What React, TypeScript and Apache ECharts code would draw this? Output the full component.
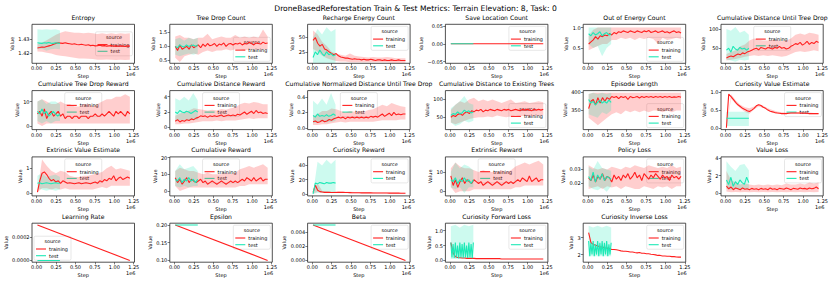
import React, { useEffect, useRef } from 'react';
import * as echarts from 'echarts';

const TRAIN_COLOR = '#ff1f1f';
const TEST_COLOR = '#1de9b6';
const TRAIN_BAND = 'rgba(255,31,31,0.22)';
const TEST_BAND = 'rgba(29,233,182,0.22)';

const SUPTITLE = 'DroneBasedReforestation Train & Test Metrics: Terrain Elevation: 8, Task: 0';
const X_TICKS = [0, 0.25, 0.5, 0.75, 1.0, 1.25];
const LEGEND_TITLE = 'source';
const SERIES_NAMES = ['training', 'test'];

// ---------- Row 1 ----------
const entropyTrain = [1.4235,1.4238,1.4242,1.424,1.4245,1.425,1.4255,1.4262,1.4268,1.4272,1.427,1.4268,1.4272,1.4268,1.4265,1.4262,1.4265,1.426,1.4258,1.4262,1.4258,1.4255,1.4258,1.4252,1.4255,1.425,1.4252,1.4255,1.425,1.4252,1.4248,1.425,1.4252,1.4248,1.425,1.4247,1.425,1.4248,1.4246,1.425,1.4248];
const entropyTrainLo = [1.421,1.4208,1.42,1.4195,1.4185,1.418,1.4175,1.417,1.4165,1.416,1.416,1.4158,1.4155,1.415,1.415,1.4152,1.415,1.4148,1.415,1.4148,1.415];
const entropyTrainHi = [1.4265,1.4275,1.429,1.431,1.433,1.4345,1.4355,1.435,1.4345,1.4345,1.434,1.4345,1.434,1.4335,1.434,1.4335,1.434,1.4335,1.434,1.4338,1.434];
const entropyTest = [1.4272,1.427,1.4268,1.4272,1.427,1.4275,1.427,1.4268,1.4272,1.427,1.4268];
const entropyTestLo = [1.4225,1.423,1.4215,1.4225,1.423,1.4225];
const entropyTestHi = [1.437,1.4365,1.437,1.4365,1.437,1.436];

const treeDropTrain = [1.0,0.85,1.05,0.9,0.95,1.0,0.9,1.05,0.95,1.0,1.05,0.95,1.08,1.0,1.1,1.02,1.05,1.1,1.0,1.08,1.05,1.12,1.0,1.08,1.1,1.05,1.1,1.08,1.12,1.05,1.1,1.08,1.15,1.1,1.05,1.12,1.1,1.08,1.15,1.1,1.12];
const treeDropTrainLo = [0.6,0.45,0.65,0.7,0.75,0.7,0.8,0.85,0.8,0.85,0.85,0.9,0.85,0.9,0.9,0.85,0.9,0.9,0.88,0.9,0.9];
const treeDropTrainHi = [1.35,1.4,1.3,1.3,1.25,1.3,1.3,1.45,1.25,1.3,1.35,1.3,1.3,1.4,1.3,1.35,1.3,1.35,1.3,1.6,1.35];
const treeDropTest = [1.0,0.95,1.05,1.0,0.98,1.05,1.0,1.02,1.05,1.0,1.05];
const treeDropTestLo = [0.7,0.65,0.7,0.75,0.7,0.75];
const treeDropTestHi = [1.25,1.3,1.2,1.3,1.25,1.3];

const rechargeTrain = [45,50,40,35,38,30,28,25,22,20,22,18,16,15,14,14,13,12,13,12,12,11,12,11,11,12,11,10,11,11,10,11,10,10,11,10,10,11,10,10,10];
const rechargeTrainLo = [30,25,18,14,11,9,8,8,7,7,7,7,7,7,7,7,7,6,6,6,6];
const rechargeTrainHi = [62,55,42,35,25,22,20,18,22,18,17,16,15,16,15,15,16,15,14,14,14];
const rechargeTest = [15,25,20,28,22,18,25,20,22,18,20];
const rechargeTestLo = [5,6,5,6,5,6];
const rechargeTestHi = [50,65,55,68,60,65];

const saveLocTrain = [0, 0];
const saveLocTest = [0, 0];

const outEnergyTrain = [0.6,0.65,0.7,0.78,0.72,0.8,0.78,0.82,0.8,0.85,0.82,0.88,0.85,0.9,0.88,0.92,0.9,0.88,0.92,0.9,0.88,0.92,0.9,0.88,0.92,0.9,0.93,0.88,0.9,0.92,0.88,0.9,0.92,0.88,0.9,0.87,0.9,0.92,0.88,0.9,0.87];
const outEnergyTrainLo = [0.45,0.5,0.55,0.6,0.6,0.7,0.7,0.75,0.72,0.75,0.7,0.75,0.72,0.75,0.72,0.6,0.75,0.7,0.72,0.75,0.72];
const outEnergyTrainHi = [0.8,0.95,1.0,1.0,1.0,1.0,1.0,1.0,1.0,1.0,1.0,1.0,1.0,1.0,1.0,1.0,1.0,1.0,1.0,1.0,1.0];
const outEnergyTest = [0.85,0.8,0.88,0.82,0.85,0.9,0.8,0.85,0.88,0.82,0.85];
const outEnergyTestLo = [0.6,0.5,0.55,0.3,0.5,0.6];
const outEnergyTestHi = [1.0,1.0,1.0,1.0,1.0,1.0];

const distUntilDropTrain = [25,28,30,28,32,35,33,38,36,40,42,45,48,50,46,52,50,48,52,50,48,52,50,55,50,52,48,50,55,58,62,60,65,58,62,68,60,65,62,68,65];
const distUntilDropTrainLo = [18,20,22,25,28,30,32,30,32,30,32,30,28,30,35,40,42,40,42,45,42];
const distUntilDropTrainHi = [35,40,45,55,60,70,75,72,70,70,72,70,68,70,75,85,88,85,90,88,85];
const distUntilDropTest = [45,50,40,55,48,45,52,48,50,45,50];
const distUntilDropTestLo = [20,18,15,20,18,20];
const distUntilDropTestHi = [100,95,105,90,95,85];

// ---------- Row 2 ----------
const dropRewardTrain = [5,6,4,7,3,5,6,4,5,6,4,5,3,4,4,3,4,4,3,4,4,4,3,4,4,5,4,4,5,4,5,6,5,4,6,5,6,5,4,6,5];
const dropRewardTrainLo = [1,0,1,1,1,1,1,1,1,1,1,1,1,1,1,1,1,1,1,1,1];
const dropRewardTrainHi = [10,11,10,9,9,10,9,9,8,8,9,9,8,9,10,11,11,12,12,13,12];
const dropRewardTest = [6,5,7,5,6,4,5,6,5,4,5];
const dropRewardTestLo = [2,1,2,1,2,2];
const dropRewardTestHi = [10,11,9,10,10,9];

const distRewardTrain = [0.8,1.0,0.7,0.9,0.8,1.0,0.9,1.1,1.0,1.2,1.3,1.5,1.4,1.5,1.3,1.5,1.4,1.5,1.4,1.5,1.6,1.4,1.5,1.6,1.5,1.6,1.5,1.7,1.6,1.8,2.0,1.7,1.9,2.1,1.8,2.2,1.9,2.0,1.8,1.9,1.8];
const distRewardTrainLo = [0.4,0.4,0.5,0.5,0.6,0.7,0.8,0.8,0.8,0.9,0.8,0.9,0.9,0.9,1.0,1.1,1.2,1.1,1.2,1.2,1.2];
const distRewardTrainHi = [1.5,1.8,2.0,2.2,2.5,2.4,2.3,2.2,2.3,2.2,2.4,2.3,2.5,2.6,3.0,3.2,3.1,3.3,3.2,3.0,3.0];
const distRewardTest = [2.0,1.8,2.2,2.0,1.9,2.1,2.0,1.8,2.0,2.2,2.0];
const distRewardTestLo = [0.8,0.9,1.0,0.9,1.0,1.0];
const distRewardTestHi = [3.8,3.5,4.0,3.5,4.5,3.5];

const normDistTrain = [0.08,0.09,0.07,0.08,0.1,0.08,0.09,0.11,0.1,0.12,0.13,0.14,0.13,0.14,0.12,0.14,0.13,0.14,0.13,0.14,0.13,0.14,0.13,0.14,0.13,0.15,0.14,0.15,0.14,0.16,0.18,0.15,0.17,0.19,0.16,0.2,0.17,0.18,0.17,0.18,0.18];
const normDistTrainLo = [0.04,0.04,0.05,0.05,0.06,0.07,0.08,0.07,0.08,0.08,0.08,0.08,0.08,0.08,0.09,0.1,0.1,0.1,0.1,0.11,0.11];
const normDistTrainHi = [0.15,0.18,0.22,0.22,0.25,0.24,0.22,0.2,0.22,0.21,0.22,0.21,0.23,0.24,0.27,0.3,0.28,0.32,0.3,0.28,0.27];
const normDistTest = [0.16,0.14,0.18,0.15,0.16,0.15,0.17,0.15,0.16,0.18,0.16];
const normDistTestLo = [0.06,0.07,0.08,0.07,0.08,0.09];
const normDistTestHi = [0.35,0.3,0.38,0.3,0.45,0.3];

const existTreesTrain = [50,55,52,58,60,55,62,65,60,68,65,70,68,72,65,70,68,72,70,68,72,70,68,72,70,72,68,70,72,70,68,72,70,72,70,68,72,70,72,70,72];
const existTreesTrainLo = [35,30,35,40,45,48,50,50,52,50,55,52,50,52,55,52,55,52,55,55,55];
const existTreesTrainHi = [70,85,95,90,100,105,95,100,95,100,95,90,95,100,90,92,95,90,92,95,92];
const existTreesTest = [55,60,58,65,60,62,70,65,68,62,65];
const existTreesTestLo = [35,25,30,40,35,40];
const existTreesTestHi = [75,85,95,110,90,85];

const episodeLenTrain = [355,375,380,365,385,370,385,375,385,380,388,385,388,382,388,385,388,380,388,385,386,388,384,388,385,388,386,388,385,388,386,388,385,388,386,388,385,387,386,388,386];
const episodeLenTrainLo = [330,320,310,320,330,340,345,340,350,345,350,345,350,345,350,350,345,350,345,350,350];
const episodeLenTrainHi = [395,398,398,398,398,398,398,398,398,398,398,398,398,398,398,398,398,398,398,398,398];
const episodeLenTest = [380,370,375,365,372,378,370,375,370,378,372];
const episodeLenTestLo = [340,335,330,345,340,350];
const episodeLenTestHi = [395,398,395,398,395,398];

const curValTrain = [0.0,0.95,0.88,0.8,0.72,0.65,0.6,0.55,0.52,0.48,0.46,0.5,0.55,0.62,0.65,0.63,0.58,0.55,0.5,0.47,0.45,0.43,0.42,0.41,0.4,0.4,0.4,0.41,0.42,0.42,0.42,0.42,0.42,0.41,0.41,0.41,0.4,0.4,0.4,0.4,0.4];
const curValTrainLo = [0.0,0.82,0.68,0.55,0.45,0.4,0.52,0.6,0.56,0.5,0.45,0.42,0.4,0.39,0.39,0.39,0.39,0.39,0.38,0.38,0.38];
const curValTrainHi = [0.0,0.95,0.78,0.65,0.58,0.55,0.6,0.67,0.62,0.55,0.5,0.46,0.44,0.43,0.43,0.44,0.44,0.43,0.43,0.42,0.42];
const curValTest = [0.27,0.27,0.27,0.27,0.27,0.27,0.27,0.27,0.27,0.27,0.27];
const curValTestLo = [0.05,0.05,0.05,0.05,0.05,0.05];
const curValTestHi = [0.45,0.45,0.45,0.45,0.45,0.45];

// ---------- Row 3 ----------
const extValTrain = [0.05,0.5,0.8,0.85,0.75,0.6,0.5,0.55,0.45,0.5,0.4,0.5,0.45,0.4,0.42,0.4,0.38,0.4,0.42,0.38,0.4,0.42,0.4,0.38,0.42,0.45,0.4,0.5,0.45,0.55,0.5,0.6,0.55,0.7,0.5,0.6,0.65,0.55,0.6,0.65,0.6];
const extValTrainLo = [0.05,0.2,0.2,0.15,0.2,0.15,0.2,0.15,0.15,0.15,0.15,0.15,0.15,0.2,0.25,0.2,0.3,0.3,0.3,0.3,0.3];
const extValTrainHi = [0.1,1.35,1.1,0.9,0.8,0.9,0.85,0.7,0.65,0.65,0.7,0.7,0.75,0.8,0.85,1.0,1.1,0.95,1.0,0.95,0.9];
const extValTest = [0.4,0.42,0.38,0.4,0.42,0.4,0.38,0.4,0.42,0.4,0.4];
const extValTestLo = [0.2,0.15,0.1,0.15,0.1,0.15];
const extValTestHi = [0.7,0.8,0.65,0.7,0.75,0.65];

const cumRewardTrain = [8,5,7,4,6,8,5,7,6,5,6,7,5,6,4,5,6,5,4,5,6,5,4,5,6,5,6,5,6,7,6,8,7,6,8,6,7,8,6,7,7];
const cumRewardTrainLo = [3,0,1,2,2,2,2,2,2,2,2,2,2,2,3,3,4,4,4,4,4];
const cumRewardTrainHi = [12,14,13,12,12,11,10,11,10,10,10,11,10,11,13,14,15,14,15,16,14];
const cumRewardTest = [7,6,8,5,7,6,8,6,7,5,7];
const cumRewardTestLo = [3,2,3,2,3,3];
const cumRewardTestHi = [12,16,13,14,15,12];

const curRewardTrain = [2,12,5,3,2.5,2,2,2,1.8,1.8,1.7,2,2.2,2,1.8,1.7,1.6,1.5,1.5,1.4,1.4,1.3,1.3,1.2,1.2,1.2,1.1,1.1,1.1,1.0,1.0,1.0,1.0,0.9,0.9,0.9,0.9,0.9,0.8,0.8,0.8];
const curRewardTrainLo = [0,3,1.5,1.2,1,1,1,1,0.9,0.8,0.8,0.7,0.7,0.7,0.6,0.6,0.6,0.5,0.5,0.5,0.5];
const curRewardTrainHi = [5,15,4,3.5,3,3.5,3,3,2.8,2.5,2.3,2.2,2,2,1.9,1.8,1.7,1.6,1.5,1.5,1.4];
const curRewardTest = [0,15,14,16,15,14,16,15,15,16,15];
const curRewardTestLo = [0,1,1,1,1,1];
const curRewardTestHi = [0,45,40,48,42,48];

const extRewardTrain = [8,3,6,2,5,7,4,6,5,4,6,5,4,5,3,4,5,4,3,4,5,4,3,4,5,4,5,4,5,6,5,7,6,5,8,5,6,7,5,6,6];
const extRewardTrainLo = [2,-1,0,0,0,1,1,1,1,1,1,1,1,1,2,2,3,3,3,3,3];
const extRewardTrainHi = [12,15,13,12,12,11,10,11,10,10,10,11,10,11,13,14,15,14,15,16,14];
const extRewardTest = [6,5,7,4,6,5,7,5,6,4,6];
const extRewardTestLo = [2,1,2,-1,2,2];
const extRewardTestHi = [10,15,12,14,13,11];

const policyLossTrain = [0.024,0.022,0.026,0.021,0.025,0.023,0.027,0.022,0.025,0.024,0.021,0.026,0.023,0.025,0.022,0.026,0.024,0.027,0.023,0.025,0.028,0.024,0.026,0.022,0.027,0.025,0.023,0.026,0.024,0.027,0.025,0.023,0.026,0.024,0.025,0.022,0.026,0.024,0.025,0.023,0.025];
const policyLossTrainLo = [0.016,0.017,0.018,0.016,0.018,0.017,0.018,0.016,0.018,0.017,0.016,0.016,0.018,0.017,0.016,0.018,0.017,0.018,0.016,0.018,0.018];
const policyLossTrainHi = [0.033,0.031,0.03,0.031,0.03,0.032,0.031,0.03,0.032,0.031,0.033,0.032,0.031,0.033,0.032,0.031,0.032,0.031,0.033,0.031,0.032];
const policyLossTest = [0.025,0.022,0.028,0.021,0.026,0.023,0.027,0.022,0.025,0.024,0.023];
const policyLossTestLo = [0.018,0.016,0.015,0.017,0.014,0.018];
const policyLossTestHi = [0.032,0.03,0.036,0.031,0.03,0.029];

const valueLossTrain = [0.8,0.5,0.7,0.4,0.6,0.5,0.4,0.6,0.45,0.5,0.4,0.55,0.45,0.5,0.4,0.55,0.45,0.5,0.4,0.6,0.45,0.5,0.4,0.55,0.5,0.45,0.6,0.5,0.4,0.55,0.5,0.45,0.6,0.5,0.55,0.45,0.6,0.5,0.55,0.7,0.5];
const valueLossTrainLo = [0.2,0.1,0.15,0.1,0.15,0.1,0.15,0.1,0.15,0.1,0.15,0.1,0.15,0.1,0.15,0.1,0.15,0.1,0.15,0.1,0.15];
const valueLossTrainHi = [2.5,1.5,1.2,1.0,1.1,1.0,0.9,1.0,0.9,1.0,0.9,1.0,0.9,1.1,1.0,1.0,1.1,1.0,1.2,1.1,1.2];
const valueLossTest = [1.5,1.0,1.8,0.8,1.3,1.0,1.5,1.2,1.0,1.8,1.2];
const valueLossTestLo = [0.5,0.4,0.5,0.4,0.5,0.4];
const valueLossTestHi = [3.6,3.0,2.5,3.2,3.3,2.6];

// ---------- Row 4 ----------
const lrTrain = [0.0003, 0.0];
const lrTest = [0.0, 0.0];
const epsTrain = [0.2, 0.1];
const epsTest = [0.2, 0.2];
const betaTrain = [0.005, 0.0];
const betaTest = [0.005, 0.005];

const fwdLossTrain = [0.6,0.25,0.12,0.1,0.09,0.08,0.08,0.07,0.07,0.07,0.07,0.06,0.06,0.06,0.06,0.06,0.06,0.06,0.06,0.06,0.06,0.06,0.05,0.05,0.05,0.05,0.05,0.05,0.05,0.05,0.05,0.05,0.05,0.05,0.05,0.05,0.05,0.05,0.05,0.05,0.05];
const fwdLossTest = [0.6,0.1,0.55,0.08,0.6,0.1,0.5,0.07,0.6,0.1,0.55,0.08,0.6,0.1,0.5,0.08,0.6,0.1,0.55,0.07,0.6];
const fwdLossTestLo = [0.05,0.05,0.05,0.05,0.05,0.05];
const fwdLossTestHi = [1.15,1.2,1.1,1.2,1.15,1.2];

const invLossTrain = [3.3,2.7,2.6,2.55,2.5,2.45,2.45,2.4,2.38,2.35,2.3,2.3,2.28,2.25,2.22,2.2,2.2,2.18,2.15,2.15,2.12,2.1,2.12,2.08,2.08,2.05,2.05,2.02,2.0,1.98,1.95,1.95,1.92,1.92,1.9,1.9,1.88,1.88,1.86,1.85,1.85];
const invLossTest = [2.8,1.9,2.7,2.0,2.8,1.9,2.6,2.0,2.8,1.9,2.7,2.0,2.8,1.9,2.7,2.0,2.8,1.9,2.6,2.0,2.7];
const invLossTestLo = [1.9,1.9,1.9,1.9,1.9,1.9];
const invLossTestHi = [3.7,3.6,3.7,3.6,3.7,3.6];

type Panel = {
  title: string; yMin: number; yMax: number; yTicks: number[]; yDec: number; legend: string;
  train: number[]; trainLo?: number[]; trainHi?: number[];
  test: number[]; testLo?: number[]; testHi?: number[];
};

const P = (title: string, yMin: number, yMax: number, yTicks: number[], yDec: number, legend: string,
  train: number[], trainLo: number[] | undefined, trainHi: number[] | undefined,
  test: number[], testLo?: number[], testHi?: number[]): Panel =>
  ({ title, yMin, yMax, yTicks, yDec, legend, train, trainLo, trainHi, test, testLo, testHi });

const PANELS: Panel[] = [
  P('Entropy', 1.4125, 1.4405, [1.42, 1.43], 2, 'cr', entropyTrain, entropyTrainLo, entropyTrainHi, entropyTest, entropyTestLo, entropyTestHi),
  P('Tree Drop Count', 0.4, 1.78, [0.5, 1.0, 1.5], 1, 'lr', treeDropTrain, treeDropTrainLo, treeDropTrainHi, treeDropTest, treeDropTestLo, treeDropTestHi),
  P('Recharge Energy Count', 5, 73, [25, 50], 0, 'ur', rechargeTrain, rechargeTrainLo, rechargeTrainHi, rechargeTest, rechargeTestLo, rechargeTestHi),
  P('Save Location Count', -0.055, 0.055, [-0.05, 0, 0.05], 2, 'ur', saveLocTrain, undefined, undefined, saveLocTest),
  P('Out of Energy Count', 0.13, 1.08, [0.5, 1.0], 1, 'lr', outEnergyTrain, outEnergyTrainLo, outEnergyTrainHi, outEnergyTest, outEnergyTestLo, outEnergyTestHi),
  P('Cumulative Distance Until Tree Drop', 11, 112, [50, 100], 0, 'uc', distUntilDropTrain, distUntilDropTrainLo, distUntilDropTrainHi, distUntilDropTest, distUntilDropTestLo, distUntilDropTestHi),

  P('Cumulative Tree Drop Reward', -1.5, 14.5, [0, 10], 0, 'uc', dropRewardTrain, dropRewardTrainLo, dropRewardTrainHi, dropRewardTest, dropRewardTestLo, dropRewardTestHi),
  P('Cumulative Distance Reward', -0.3, 4.8, [0, 2, 4], 0, 'uc', distRewardTrain, distRewardTrainLo, distRewardTrainHi, distRewardTest, distRewardTestLo, distRewardTestHi),
  P('Cumulative Normalized Distance Until Tree Drop', -0.02, 0.48, [0, 0.2, 0.4], 1, 'uc', normDistTrain, normDistTrainLo, normDistTrainHi, normDistTest, normDistTestLo, normDistTestHi),
  P('Cumulative Distance to Existing Trees', 15, 125, [50, 100], 0, 'lr', existTreesTrain, existTreesTrainLo, existTreesTrainHi, existTreesTest, existTreesTestLo, existTreesTestHi),
  P('Episode Length', 298, 404, [350, 400], 0, 'lr', episodeLenTrain, episodeLenTrainLo, episodeLenTrainHi, episodeLenTest, episodeLenTestLo, episodeLenTestHi),
  P('Curiosity Value Estimate', -0.05, 1.05, [0, 0.5, 1.0], 1, 'ur', curValTrain, curValTrainLo, curValTrainHi, curValTest, curValTestLo, curValTestHi),

  P('Extrinsic Value Estimate', -0.1, 1.45, [0, 1], 0, 'uc', extValTrain, extValTrainLo, extValTrainHi, extValTest, extValTestLo, extValTestHi),
  P('Cumulative Reward', -3, 20.5, [0, 10, 20], 0, 'uc', cumRewardTrain, cumRewardTrainLo, cumRewardTrainHi, cumRewardTest, cumRewardTestLo, cumRewardTestHi),
  P('Curiosity Reward', -3, 52, [0, 20, 40], 0, 'ur', curRewardTrain, curRewardTrainLo, curRewardTrainHi, curRewardTest, curRewardTestLo, curRewardTestHi),
  P('Extrinsic Reward', -2.5, 18, [0, 10], 0, 'uc', extRewardTrain, extRewardTrainLo, extRewardTrainHi, extRewardTest, extRewardTestLo, extRewardTestHi),
  P('Policy Loss', 0.011, 0.039, [0.02, 0.03], 2, 'ur', policyLossTrain, policyLossTrainLo, policyLossTrainHi, policyLossTest, policyLossTestLo, policyLossTestHi),
  P('Value Loss', -0.3, 4.1, [0, 2, 4], 0, 'ur', valueLossTrain, valueLossTrainLo, valueLossTrainHi, valueLossTest, valueLossTestLo, valueLossTestHi),

  P('Learning Rate', -0.000015, 0.000315, [0, 0.0002], 4, 'll', lrTrain, undefined, undefined, lrTest),
  P('Epsilon', 0.095, 0.205, [0.1, 0.15, 0.2], 2, 'ur', epsTrain, undefined, undefined, epsTest),
  P('Beta', -0.00025, 0.00525, [0, 0.002, 0.004], 3, 'ur', betaTrain, undefined, undefined, betaTest),
  P('Curiosity Forward Loss', -0.06, 1.25, [0, 0.5, 1.0], 1, 'ur', fwdLossTrain, undefined, undefined, fwdLossTest, fwdLossTestLo, fwdLossTestHi),
  P('Curiosity Inverse Loss', 1.55, 3.85, [2, 3], 0, 'ur', invLossTrain, undefined, undefined, invLossTest, invLossTestLo, invLossTestHi),
];

const X_MIN = -0.06, X_MAX = 1.26;
const TRAIN_START = 0.01, TRAIN_END = 1.2, TEST_START = 0.01, TEST_END = 0.3;

const COL_LEFT = 32, COL_STEP = 137.8, GRID_W = 102.5;
const ROW_TOP = 24.3, ROW_STEP = 66.3, GRID_H = 39;

const FS_TICK = 5, FS_TITLE = 6.1, FS_SUP = 7.6, FS_LEG = 4.9;
const FONT = 'DejaVu Sans';

const lin = (n: number, a: number, b: number) =>
  Array.from({ length: n }, (_, i) => (n === 1 ? a : a + ((b - a) * i) / (n - 1)));
const pairs = (xs: number[], ys: number[]) => ys.map((y, i) => [xs[i], y]);

const fmt = (v: number, d: number) => {
  const s = Math.abs(v).toFixed(d);
  return v < -1e-12 ? '\u2212' + s : s;
};
const charW = (c: string) => (c === '.' ? 0.318 : c === '\u2212' ? 0.838 : 0.636);
const textW = (s: string, fs: number) => s.split('').reduce((a, c) => a + charW(c), 0) * fs;

function buildOption() {
  const grid: any[] = [], xAxis: any[] = [], yAxis: any[] = [], series: any[] = [], graphic: any[] = [];
  graphic.push({ type: 'text', x: 415.5, y: 8.5, z: 100,
    style: { text: SUPTITLE, fontSize: FS_SUP, fontFamily: FONT, fill: '#000', align: 'center', textAlign: 'center', verticalAlign: 'middle', textVerticalAlign: 'middle' } });

  PANELS.forEach((p, i) => {
    const c = i % 6, r = Math.floor(i / 6);
    const left = COL_LEFT + c * COL_STEP, top = ROW_TOP + r * ROW_STEP;
    const right = left + GRID_W, bottom = top + GRID_H;
    grid.push({ left, top, width: GRID_W, height: GRID_H, show: true, borderColor: '#262626', borderWidth: 0.8, backgroundColor: 'transparent' });
    xAxis.push({
      type: 'value', gridIndex: i, min: X_MIN, max: X_MAX,
      axisLine: { show: false, onZero: false }, splitLine: { show: false },
      axisTick: { show: true, length: 2.2, customValues: X_TICKS, lineStyle: { color: '#262626', width: 0.6 } },
      axisLabel: { customValues: X_TICKS, formatter: (v: number) => v.toFixed(2), fontSize: FS_TICK, fontFamily: FONT, color: '#000', margin: 2.5 },
      name: 'Step', nameLocation: 'middle', nameGap: 10.5, nameTextStyle: { fontSize: FS_TICK, fontFamily: FONT, color: '#000' },
    });
    const labels = p.yTicks.map((t) => fmt(t, p.yDec));
    const maxW = Math.max(...labels.map((l) => textW(l, FS_TICK)));
    yAxis.push({
      type: 'value', gridIndex: i, min: p.yMin, max: p.yMax,
      axisLine: { show: false, onZero: false }, splitLine: { show: false },
      axisTick: { show: true, length: 2.2, customValues: p.yTicks, lineStyle: { color: '#262626', width: 0.6 } },
      axisLabel: { customValues: p.yTicks, formatter: (v: number) => fmt(v, p.yDec), fontSize: FS_TICK, fontFamily: FONT, color: '#000', margin: 2.5 },
      name: 'Value', nameLocation: 'middle', nameRotate: 90, nameGap: maxW + 6, nameTextStyle: { fontSize: FS_TICK, fontFamily: FONT, color: '#000' },
    });

    const band = (xs: number[], lo: number[], hi: number[], fill: string) => ({
      type: 'custom', xAxisIndex: i, yAxisIndex: i, silent: true, clip: true, data: [[0.5, (p.yMin + p.yMax) / 2]],
      renderItem: (_params: any, api: any) => {
        const pts: number[][] = [];
        for (let k = 0; k < xs.length; k++) pts.push(api.coord([xs[k], hi[k]]));
        for (let k = xs.length - 1; k >= 0; k--) pts.push(api.coord([xs[k], lo[k]]));
        return { type: 'polygon', shape: { points: pts }, style: { fill, stroke: 'none' } };
      },
    });
    const line = (xs: number[], ys: number[], color: string, name: string) => ({
      type: 'line', name, xAxisIndex: i, yAxisIndex: i, data: pairs(xs, ys), showSymbol: false, symbol: 'none',
      lineStyle: { color, width: 1.1 }, itemStyle: { color }, silent: true, clip: true,
    });

    if (p.trainLo && p.trainHi) series.push(band(lin(p.trainLo.length, TRAIN_START, TRAIN_END), p.trainLo, p.trainHi, TRAIN_BAND));
    series.push(line(lin(p.train.length, TRAIN_START, TRAIN_END), p.train, TRAIN_COLOR, SERIES_NAMES[0]));
    if (p.testLo && p.testHi) series.push(band(lin(p.testLo.length, TEST_START, TEST_END), p.testLo, p.testHi, TEST_BAND));
    series.push(line(lin(p.test.length, TEST_START, TEST_END), p.test, TEST_COLOR, SERIES_NAMES[1]));

    graphic.push({ type: 'text', x: left + GRID_W / 2, y: top - 4, z: 100,
      style: { text: p.title, fontSize: FS_TITLE, fontFamily: FONT, fill: '#000', align: 'center', textAlign: 'center', verticalAlign: 'bottom', textVerticalAlign: 'bottom' } });
    graphic.push({ type: 'text', x: right + 1, y: bottom + 8.5, z: 100,
      style: { text: '1e6', fontSize: FS_TICK, fontFamily: FONT, fill: '#000', align: 'right', textAlign: 'right', verticalAlign: 'top', textVerticalAlign: 'top' } });

    const LW = 37, LH = 24, pad = 2;
    let lx = right - pad - LW, ly = top + pad;
    if (p.legend === 'lr') ly = bottom - pad - LH;
    else if (p.legend === 'cr') ly = top + (GRID_H - LH) / 2;
    else if (p.legend === 'uc') lx = left + (GRID_W - LW) / 2;
    else if (p.legend === 'll') { lx = left + pad; ly = bottom - pad - LH; }
    const txt = (t: string, x: number, y: number, align: string) => ({ type: 'text', x, y,
      style: { text: t, fontSize: FS_LEG, fontFamily: FONT, fill: '#000', align, textAlign: align, verticalAlign: 'middle', textVerticalAlign: 'middle' } });
    graphic.push({
      type: 'group', x: lx, y: ly, z: 110,
      children: [
        { type: 'rect', shape: { x: 0, y: 0, width: LW, height: LH, r: 1.5 }, style: { fill: 'rgba(255,255,255,0.8)', stroke: '#d6d6d6', lineWidth: 0.6 } },
        txt(LEGEND_TITLE, LW / 2, 5, 'center'),
        { type: 'line', shape: { x1: 2, y1: 12.8, x2: 12, y2: 12.8 }, style: { stroke: TRAIN_COLOR, lineWidth: 1.1 } },
        txt(SERIES_NAMES[0], 15, 12.8, 'left'),
        { type: 'line', shape: { x1: 2, y1: 19.5, x2: 12, y2: 19.5 }, style: { stroke: TEST_COLOR, lineWidth: 1.1 } },
        txt(SERIES_NAMES[1], 15, 19.5, 'left'),
      ],
    });
  });

  return { animation: false, backgroundColor: '#fff', grid, xAxis, yAxis, series, graphic };
}

export default function App() {
  const ref = useRef<HTMLDivElement>(null);
  useEffect(() => {
    if (!ref.current) return;
    const chart = echarts.init(ref.current, undefined, { renderer: 'svg' });
    chart.setOption(buildOption() as any);
    return () => chart.dispose();
  }, []);
  return <div ref={ref} style={{ width: 831, height: 283, position: 'absolute', left: 0, top: 0 }} />;
}
